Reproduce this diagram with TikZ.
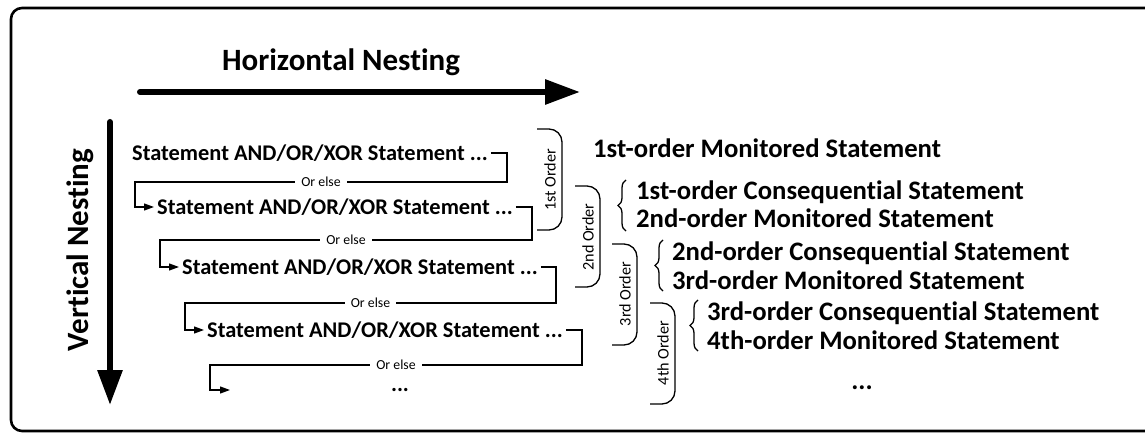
\documentclass[tikz,border=0pt]{standalone}
\usepackage{fontspec}
\setmainfont[Ligatures=NoCommon]{Carlito}
\usetikzlibrary{arrows.meta,decorations.pathreplacing}

\tikzset{
  stmt/.style={font=\bfseries\fontsize{22.4}{23}\selectfont, inner xsep=3pt, inner ysep=0pt},
  result/.style={font=\bfseries\fontsize{26.7}{27}\selectfont, anchor=west, inner sep=0pt},
  heading/.style={font=\bfseries\fontsize{31}{31}\selectfont, inner sep=0pt},
  orelse/.style={font=\fontsize{13.8}{14}\selectfont, fill=white, inner xsep=6pt, inner ysep=1pt},
  ordtxt/.style={font=\fontsize{16.2}{16}\selectfont, rotate=90, inner sep=0pt},
  link/.style={line width=1.2pt, -{Triangle[length=10pt,width=7pt]}},
  paren/.style={line width=1.3pt, rounded corners=13pt},
  curly/.style={line width=1.3pt, decorate, decoration={brace, amplitude=8pt}},
  bigarrow/.style={line width=6pt, line cap=round, -{Triangle[length=35pt,width=24pt]}}
}

\begin{document}
\begin{tikzpicture}[x=1pt,y=-1pt]

\useasboundingbox (0,0) rectangle (1145,435);
\draw[line width=2.6pt, rounded corners=11pt] (11,8) rectangle (1170,431);

\node[heading] (hn) at (341,62) {Horizontal Nesting};
\coordinate (hs) at (140,92);
\coordinate (he) at (580,92);
\draw[bigarrow] (hs) -- (he);

\node[heading, rotate=90] (vn) at (80,250) {Vertical Nesting};
\coordinate (vs) at (110,122);
\coordinate (ve) at (110,405);
\draw[bigarrow] (vs) -- (ve);

\node[stmt, anchor=west] (s1) at (132 - 3, 153) {Statement AND/OR/XOR Statement ...};
\node[stmt, anchor=west] (s2) at (157 - 3, 207) {Statement AND/OR/XOR Statement ...};
\node[stmt, anchor=west] (s3) at (182 - 3, 267) {Statement AND/OR/XOR Statement ...};
\node[stmt, anchor=west] (s4) at (207 - 3, 330) {Statement AND/OR/XOR Statement ...};
\node[stmt] (s5) at (400, 390) {...};

\coordinate (r1) at (507,182);
\coordinate (l1) at (135,182);
\coordinate (r2) at (532,240);
\coordinate (l2) at (160,240);
\coordinate (r3) at (556,303);
\coordinate (l3) at (185,303);
\coordinate (r4) at (582,365);
\coordinate (l4) at (210,365);
\coordinate (e5) at (230,390);

\draw[link] (s1.east) -| (r1) -- node[orelse] {Or else} (l1) |- (s2.west);
\draw[link] (s2.east) -| (r2) -- node[orelse] {Or else} (l2) |- (s3.west);
\draw[link] (s3.east) -| (r3) -- node[orelse] {Or else} (l3) |- (s4.west);
\draw[link] (s4.east) -| (r4) -- node[orelse] {Or else} (l4) |- (e5);

\draw[paren] (537,129) -- (562,129) -- (562,230) -- (537,230);
\node[ordtxt] (o1) at (550,180) {1st Order};
\draw[paren] (575,186) -- (600,186) -- (600,287) -- (575,287);
\node[ordtxt] (o2) at (588,237) {2nd Order};
\draw[paren] (612,244) -- (637,244) -- (637,345) -- (612,345);
\node[ordtxt] (o3) at (625,294) {3rd Order};
\draw[paren] (650,303) -- (675,303) -- (675,404) -- (650,404);
\node[ordtxt] (o4) at (663,353) {4th Order};

\node[result] (m1) at (593,148) {1st-order Monitored Statement};

\draw[curly] (626,231) -- (626,180);
\node[result] (c1) at (636,192) {1st-order Consequential Statement};
\node[result] (m2) at (636,218) {2nd-order Monitored Statement};

\draw[curly] (663,291) -- (663,240);
\node[result] (c2) at (672,253) {2nd-order Consequential Statement};
\node[result] (m3) at (672,280) {3rd-order Monitored Statement};

\draw[curly] (698,351) -- (698,300);
\node[result] (c3) at (707,313) {3rd-order Consequential Statement};
\node[result] (m4) at (707,340) {4th-order Monitored Statement};

\node[result, anchor=center] (dd) at (862,388) {...};

\end{tikzpicture}
\end{document}
